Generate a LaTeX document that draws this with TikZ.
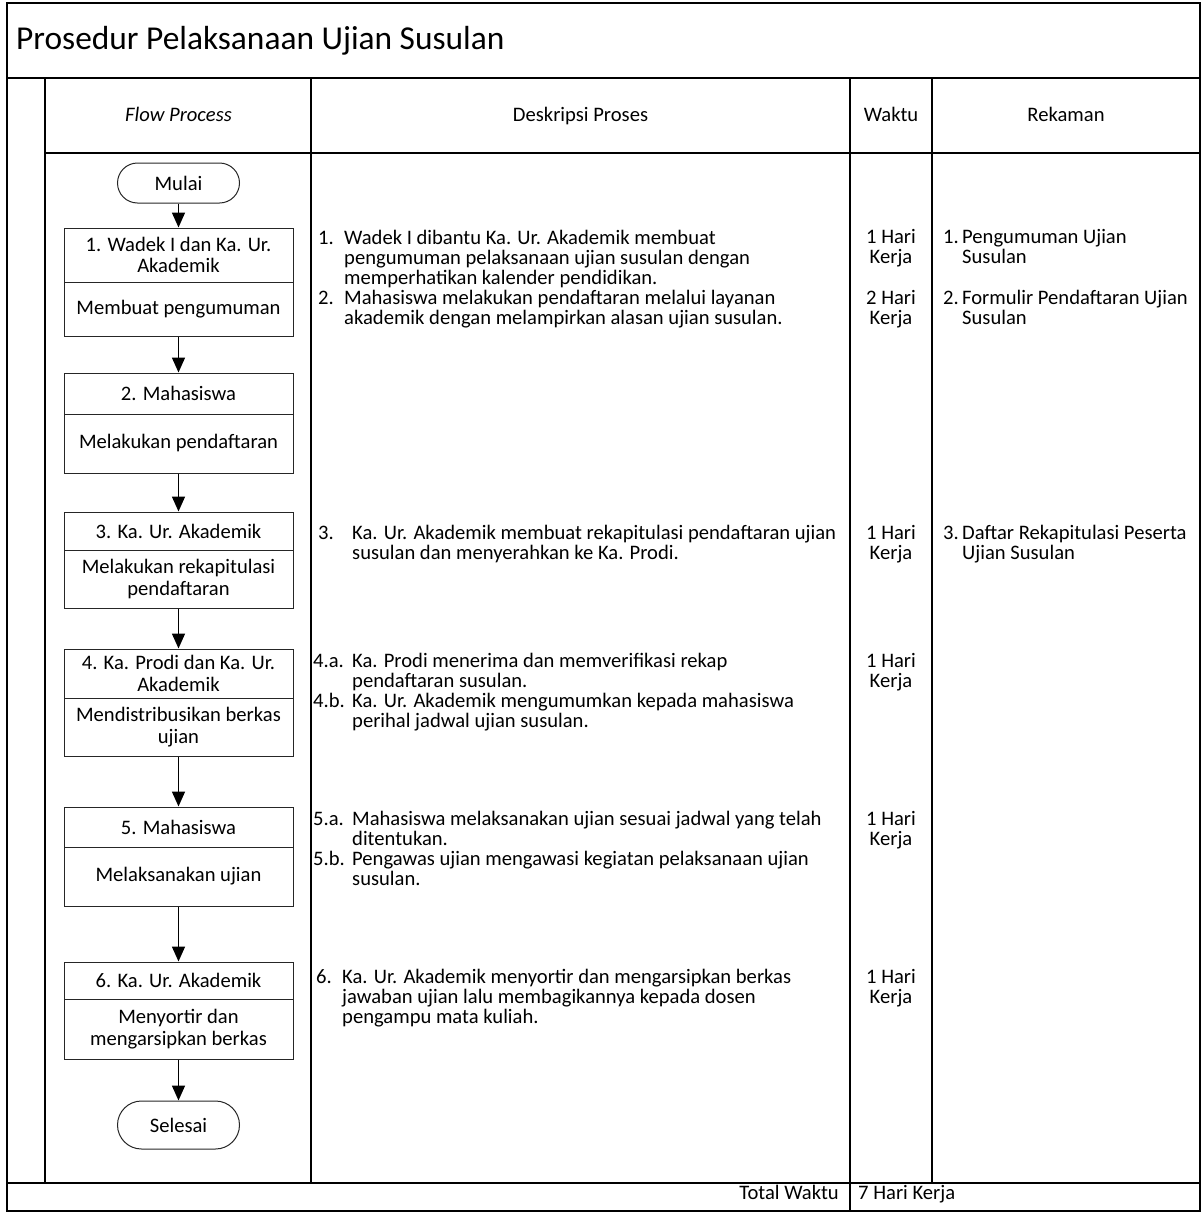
\documentclass[tikz,border=0pt]{standalone}
\usepackage{fontspec}
\setmainfont{Carlito}
\usetikzlibrary{arrows.meta}
\newcommand\mlines[2][l]{\begin{tabular}[t]{@{}#1@{}}#2\end{tabular}}
\newcommand\numcol[2]{\makebox[#1pt][l]{#2}}
\begin{document}
\begin{tikzpicture}[x=1pt,y=-1pt,
  tbl/.style={line width=1.5pt,black},
  txt/.style={inner sep=0pt,anchor=base west,font=\fontsize{20.6}{19.6}\selectfont},
  ctxt/.style={inner sep=0pt,anchor=base,font=\fontsize{20.6}{19.6}\selectfont},
  hdr/.style={inner sep=0pt,anchor=base,font=\fontsize{20.6}{20}\selectfont},
  fbox/.style={draw=black!85,line width=1pt,minimum width=229pt,inner sep=0pt,align=center,font=\fontsize{20.6}{21.5}\selectfont},
  term/.style={draw=black!85,line width=1pt,minimum width=122pt,inner sep=0pt,font=\fontsize{20.6}{20}\selectfont},
  flow/.style={-{Triangle[width=13pt,length=15pt]},line width=1.6pt}
]
\useasboundingbox (0,0) rectangle (1203,1213);
% table frame
\draw[tbl] (7,3) rectangle (1200,1211);
\draw[tbl] (7,78) -- (1200,78);
\draw[tbl] (45,153) -- (1200,153);
\draw[tbl] (7,1183) -- (1200,1183);
\draw[tbl] (45,78) -- (45,1183);
\draw[tbl] (311,78) -- (311,1183);
\draw[tbl] (850,78) -- (850,1211);
\draw[tbl] (932,78) -- (932,1183);
% title and headers
\node[inner sep=0pt,anchor=base west,font=\fontsize{33.4}{34}\selectfont] (title) at (16,49) {Prosedur Pelaksanaan Ujian Susulan};
\node[hdr] (hflow) at (178.5,121) {\itshape Flow Process};
\node[hdr] (hdesk) at (580.5,121) {Deskripsi Proses};
\node[hdr] (hwaktu) at (891,121) {Waktu};
\node[hdr] (hrek) at (1066,121) {Rekaman};
% flow
\node[term,rounded corners=20pt,minimum height=40pt] (mulai) at (178.5,183) {Mulai};
\node[fbox,minimum height=54pt] (t1) at (178.5,255) {1. Wadek I dan Ka. Ur.\\Akademik};
\node[fbox,minimum height=54pt] (b1) at (178.5,309) {Membuat pengumuman};
\node[fbox,minimum height=41pt] (t2) at (178.5,393.5) {2. Mahasiswa};
\node[fbox,minimum height=59pt] (b2) at (178.5,443.5) {Melakukan pendaftaran};
\node[fbox,minimum height=38pt] (t3) at (178.5,531) {3. Ka. Ur. Akademik};
\node[fbox,minimum height=58pt] (b3) at (178.5,579) {Melakukan rekapitulasi\\pendaftaran};
\node[fbox,minimum height=49pt] (t4) at (178.5,673.5) {4. Ka. Prodi dan Ka. Ur.\\Akademik};
\node[fbox,minimum height=58pt] (b4) at (178.5,727) {Mendistribusikan berkas\\ujian};
\node[fbox,minimum height=40pt] (t5) at (178.5,827) {5. Mahasiswa};
\node[fbox,minimum height=59pt] (b5) at (178.5,876.5) {Melaksanakan ujian};
\node[fbox,minimum height=37pt] (t6) at (178.5,980.5) {6. Ka. Ur. Akademik};
\node[fbox,minimum height=60pt] (b6) at (178.5,1029) {Menyortir dan\\mengarsipkan berkas};
\node[term,rounded corners=24pt,minimum height=48pt] (selesai) at (178.5,1125) {Selesai};
\draw[flow] (mulai.south) -- (t1.north);
\draw[flow] (b1.south) -- (t2.north);
\draw[flow] (b2.south) -- (t3.north);
\draw[flow] (b3.south) -- (t4.north);
\draw[flow] (b4.south) -- (t5.north);
\draw[flow] (b5.south) -- (t6.north);
\draw[flow] (b6.south) -- (selesai.north);
% descriptions
\node[txt] (d1) at (318,244) {\begin{tabular}[t]{@{}l@{}l@{}}\numcol{26}{1.}&Wadek I dibantu Ka. Ur. Akademik membuat\\&pengumuman pelaksanaan ujian susulan dengan\\&memperhatikan kalender pendidikan.\end{tabular}};
\node[txt] (d2) at (318,304) {\begin{tabular}[t]{@{}l@{}l@{}}\numcol{26}{2.}&Mahasiswa melakukan pendaftaran melalui layanan\\&akademik dengan melampirkan alasan ujian susulan.\end{tabular}};
\node[txt] (d3) at (318,539) {\begin{tabular}[t]{@{}l@{}l@{}}\numcol{34}{3.}&Ka. Ur. Akademik membuat rekapitulasi pendaftaran ujian\\&susulan dan menyerahkan ke Ka. Prodi.\end{tabular}};
\node[txt] (d4) at (313,667) {\begin{tabular}[t]{@{}l@{}l@{}}\numcol{39}{4.a.}&Ka. Prodi menerima dan memverifikasi rekap\\&pendaftaran susulan.\\4.b.&Ka. Ur. Akademik mengumumkan kepada mahasiswa\\&perihal jadwal ujian susulan.\end{tabular}};
\node[txt] (d5) at (313,825) {\begin{tabular}[t]{@{}l@{}l@{}}\numcol{39}{5.a.}&Mahasiswa melaksanakan ujian sesuai jadwal yang telah\\&ditentukan.\\5.b.&Pengawas ujian mengawasi kegiatan pelaksanaan ujian\\&susulan.\end{tabular}};
\node[txt] (d6) at (316,983) {\begin{tabular}[t]{@{}l@{}l@{}}\numcol{26}{6.}&Ka. Ur. Akademik menyortir dan mengarsipkan berkas\\&jawaban ujian lalu membagikannya kepada dosen\\&pengampu mata kuliah.\end{tabular}};
% waktu
\node[ctxt] (w1) at (891,243) {\mlines[c]{1 Hari\\Kerja}};
\node[ctxt] (w2) at (891,304) {\mlines[c]{2 Hari\\Kerja}};
\node[ctxt] (w3) at (891,539) {\mlines[c]{1 Hari\\Kerja}};
\node[ctxt] (w4) at (891,667) {\mlines[c]{1 Hari\\Kerja}};
\node[ctxt] (w5) at (891,825) {\mlines[c]{1 Hari\\Kerja}};
\node[ctxt] (w6) at (891,983) {\mlines[c]{1 Hari\\Kerja}};
% rekaman
\node[txt] (r1) at (943,243) {\begin{tabular}[t]{@{}l@{}l@{}}\numcol{19}{1.}&Pengumuman Ujian\\&Susulan\end{tabular}};
\node[txt] (r2) at (943,304) {\begin{tabular}[t]{@{}l@{}l@{}}\numcol{19}{2.}&Formulir Pendaftaran Ujian\\&Susulan\end{tabular}};
\node[txt] (r3) at (943,539) {\begin{tabular}[t]{@{}l@{}l@{}}\numcol{19}{3.}&Daftar Rekapitulasi Peserta\\&Ujian Susulan\end{tabular}};
% footer
\node[inner sep=0pt,anchor=base east,font=\fontsize{20.6}{20}\selectfont] (tw) at (839,1199) {Total Waktu};
\node[inner sep=0pt,anchor=base west,font=\fontsize{20.6}{20}\selectfont] (tw7) at (858,1199) {7 Hari Kerja};
\end{tikzpicture}
\end{document}
